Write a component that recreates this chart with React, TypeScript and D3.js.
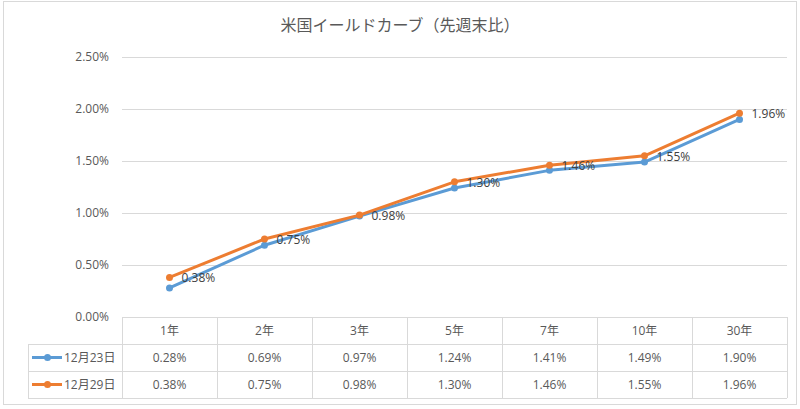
import React from "react";
import * as d3 from "d3";

const categories = ["1年", "2年", "3年", "5年", "7年", "10年", "30年"];
const seriesNames = ["12月23日", "12月29日"];
const dec23 = [0.28, 0.69, 0.97, 1.24, 1.41, 1.49, 1.9];
const dec29 = [0.38, 0.75, 0.98, 1.3, 1.46, 1.55, 1.96];
const yTicks = [0, 0.5, 1.0, 1.5, 2.0, 2.5];
const colors = ["#5B9BD5", "#ED7D31"];
const title = "米国イールドカーブ（先週末比）";

const W = 800;
const H = 409;
const FONT = "'Open Sans', 'Noto Sans CJK JP', sans-serif";

export default function App() {
  const left = 122;
  const right = 787;
  const top = 57;
  const bottom = 317;
  const rowH = 27;
  const legendLeft = 28;

  const x = d3.scaleBand<string>().domain(categories).range([left, right]);
  const y = d3.scaleLinear().domain([0, 2.5]).range([bottom, top]);
  const cx = (c: string) => (x(c) as number) + x.bandwidth() / 2;

  const series = [dec23, dec29];
  const line = d3
    .line<number>()
    .x((_, i) => cx(categories[i]))
    .y((d) => y(d));

  const fmt = (v: number) => v.toFixed(2) + "%";
  const grid = "#d9d9d9";
  const txt = "#595959";

  const rowYs = [bottom, bottom + rowH, bottom + 2 * rowH, bottom + 3 * rowH];

  return (
    <div style={{ position: "absolute", left: 0, top: 0 }}>
      <svg width={W} height={H} style={{ display: "block", background: "#fff" }}>
        <rect x={3.5} y={1.5} width={793} height={403} fill="#fff" stroke="#d9d9d9" strokeWidth={1} />
        <text x={400} y={31} textAnchor="middle" fontSize={16} fill={txt} fontFamily={FONT}>
          {title}
        </text>
        {yTicks.map((t) => (
          <g key={t}>
            {t > 0 && (
              <line x1={left} x2={right} y1={Math.round(y(t)) + 0.5} y2={Math.round(y(t)) + 0.5} stroke={grid} strokeWidth={1} />
            )}
            <text x={109} y={y(t) + 4} textAnchor="end" fontSize={12} fill={txt} fontFamily={FONT}>
              {fmt(t)}
            </text>
          </g>
        ))}
        {/* table grid */}
        <g stroke={grid} strokeWidth={1} fill="none">
          <line x1={left} x2={right} y1={rowYs[0] + 0.5} y2={rowYs[0] + 0.5} />
          {rowYs.slice(1).map((ry) => (
            <line key={ry} x1={legendLeft} x2={right} y1={ry + 0.5} y2={ry + 0.5} />
          ))}
          <line x1={legendLeft + 0.5} x2={legendLeft + 0.5} y1={rowYs[1]} y2={rowYs[3]} />
          {categories.map((c) => (
            <line key={c} x1={(x(c) as number) + 0.5} x2={(x(c) as number) + 0.5} y1={rowYs[0]} y2={rowYs[3]} />
          ))}
          <line x1={right + 0.5} x2={right + 0.5} y1={rowYs[0]} y2={rowYs[3]} />
        </g>
        {categories.map((c) => (
          <text key={c} x={cx(c)} y={rowYs[0] + rowH / 2 + 4.5} textAnchor="middle" fontSize={12} fill={txt} fontFamily={FONT}>
            {c}
          </text>
        ))}
        {series.map((s, si) => (
          <g key={si}>
            <line x1={32} x2={62} y1={rowYs[si + 1] + rowH / 2} y2={rowYs[si + 1] + rowH / 2} stroke={colors[si]} strokeWidth={3} />
            <circle cx={47.5} cy={rowYs[si + 1] + rowH / 2} r={3.5} fill={colors[si]} />
            <text x={64} y={rowYs[si + 1] + rowH / 2 + 4.5} fontSize={12} fill={txt} fontFamily={FONT}>
              {seriesNames[si]}
            </text>
            {s.map((v, i) => (
              <text key={i} x={cx(categories[i])} y={rowYs[si + 1] + rowH / 2 + 4.5} textAnchor="middle" fontSize={12} fill={txt} fontFamily={FONT}>
                {fmt(v)}
              </text>
            ))}
          </g>
        ))}
        {series.map((s, si) => (
          <g key={"l" + si}>
            <path d={line(s) || ""} fill="none" stroke={colors[si]} strokeWidth={3} strokeLinejoin="round" strokeLinecap="round" />
            {s.map((v, i) => (
              <circle key={i} cx={cx(categories[i])} cy={y(v)} r={3.5} fill={colors[si]} />
            ))}
          </g>
        ))}
        {dec29.map((v, i) => (
          <text key={"dl" + i} x={cx(categories[i]) + 12} y={y(v) + 5} fontSize={12} fill="#404040" fontFamily={FONT}>
            {fmt(v)}
          </text>
        ))}
      </svg>
    </div>
  );
}
